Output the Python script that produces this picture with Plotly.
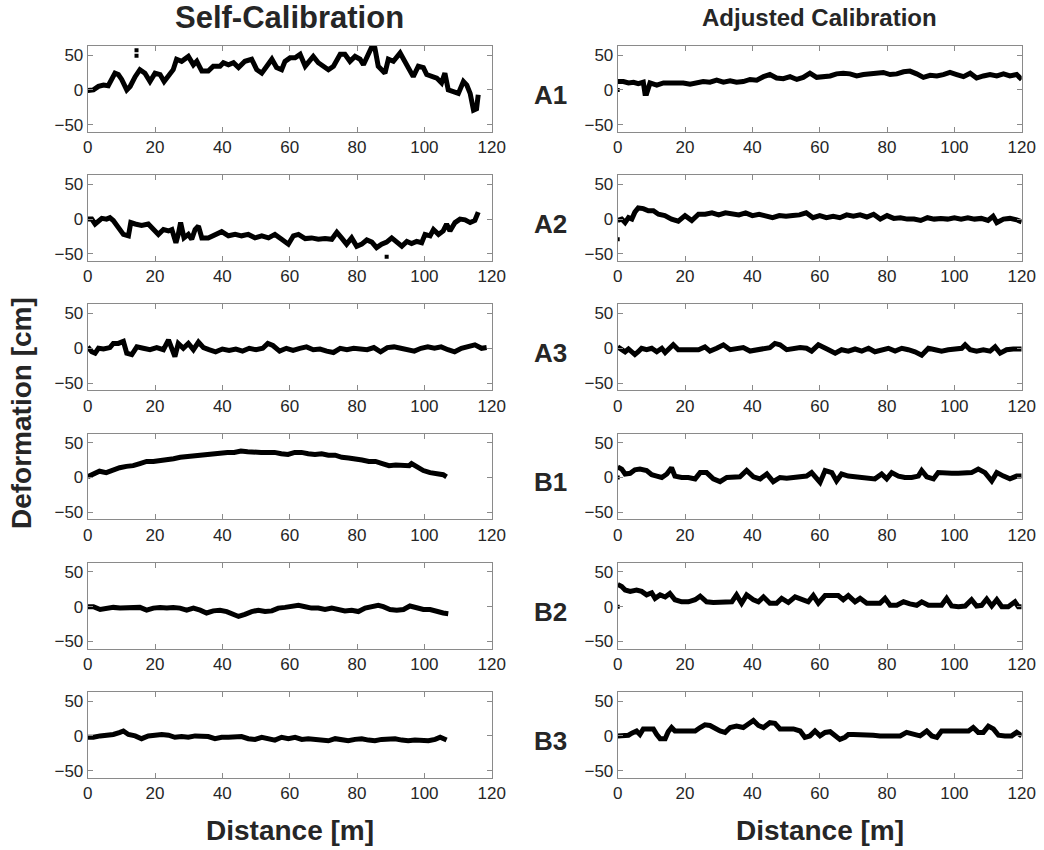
import plotly.graph_objects as go
from plotly.subplots import make_subplots

# ---------------- data (distance in m, deformation in cm) ----------------
SELF_A1_X = [0, 1.7, 3.2, 4.7, 6.1, 7.1, 8.1, 9.1, 10.1, 11.6, 12.6, 14.1, 15.5, 17.0, 18.5, 20.0, 21.5, 22.7, 24.0, 25.4,
             26.4, 27.9, 29.9, 31.4, 32.4, 33.9, 35.8, 37.3, 39.3, 40.3, 41.8, 43.3, 44.8, 46.7, 48.7, 50.2, 51.7, 53.2, 54.7, 56.1,
             57.6, 58.6, 60.1, 61.6, 63.1, 64.6, 66.0, 67.0, 68.5, 70.0, 71.5, 73.0, 75.0, 76.4, 77.9, 79.4, 80.9, 81.9, 83.4, 84.4,
             85.3, 86.3, 87.3, 88.3, 89.3, 90.8, 92.8, 93.8, 95.2, 96.7, 98.2, 99.7, 100.7, 102.2, 103.7, 105.1, 106.1, 107.1, 108.6, 110.1,
             111.6, 112.6, 113.6, 114.6, 115.5, 116.0]
SELF_A1_Y = [-1, 0, 5, 7, 6, 15, 24, 22, 15, 0, 5, 19, 29, 24, 12, 24, 22, 12, 19, 29,
             44, 41, 48, 36, 41, 27, 27, 34, 34, 39, 36, 39, 32, 41, 44, 29, 24, 34, 44, 32,
             29, 41, 46, 46, 51, 34, 41, 48, 39, 34, 29, 34, 51, 51, 41, 48, 44, 36, 51, 62,
             60, 34, 29, 24, 44, 41, 53, 44, 34, 19, 34, 32, 22, 19, 17, 10, 24, 0, -2, -5,
             12, 7, -5, -29, -27, -7]
SELF_A1_OUT_X = [14.5, 14.5]
SELF_A1_OUT_Y = [57, 49]

ADJ_A1_X = [0, 1.7, 3.2, 4.7, 6.1, 7.6, 8.1, 8.6, 9.6, 11.6, 13.6, 15.5, 17.5, 19.5, 21.5, 23.5, 25.4, 27.4, 29.4, 31.4,
            33.4, 35.3, 37.3, 39.3, 41.3, 43.3, 45.2, 47.2, 49.2, 51.2, 53.2, 55.1, 57.1, 59.1, 61.1, 63.1, 65.0, 67.0, 69.0, 71.0,
            73.0, 75.0, 76.9, 78.9, 80.9, 82.9, 84.9, 86.8, 88.8, 90.8, 92.8, 94.8, 96.7, 98.7, 100.7, 102.7, 104.7, 106.6, 108.6, 110.6,
            112.6, 114.6, 116.5, 118.5, 120]
ADJ_A1_Y = [12, 12, 10, 11, 9, 11, -5, -5, 10, 7, 10, 10, 9, 10, 8, 11, 12, 11, 14, 11,
            13, 11, 12, 15, 14, 19, 22, 17, 16, 19, 15, 18, 24, 18, 19, 20, 23, 24, 23, 20,
            22, 23, 24, 25, 22, 23, 26, 27, 23, 18, 21, 20, 22, 25, 22, 19, 24, 17, 20, 22,
            20, 23, 20, 22, 15]
ADJ_A1_OUT_X = [0]
ADJ_A1_OUT_Y = [0]

SELF_A2_X = [0, 1.2, 2.2, 3.2, 4.2, 5.6, 6.6, 7.6, 9.1, 10.6, 12.1, 12.8, 14.1, 16.0, 18.0, 19.5, 21.0, 22.5, 24.0, 25.0,
             26.2, 26.9, 27.6, 28.6, 29.9, 30.9, 31.9, 32.9, 33.9, 35.8, 37.8, 39.8, 41.8, 43.8, 45.7, 47.7, 49.7, 51.7, 53.7, 55.6,
             57.6, 59.6, 61.1, 62.6, 64.6, 66.5, 68.5, 70.5, 72.5, 74.0, 75.4, 76.9, 78.4, 79.9, 81.4, 82.9, 84.4, 85.8, 87.3, 88.8,
             90.3, 91.8, 93.3, 94.8, 96.2, 97.7, 99.2, 100.2, 101.7, 102.7, 104.2, 105.6, 106.6, 107.6, 109.1, 110.6, 112.1, 113.6, 115.0, 116.0]
SELF_A2_Y = [0, 0, -7, -2, 1, 0, 2, -2, -12, -22, -24, -5, -7, -9, -7, -15, -22, -15, -17, -15,
             -34, -22, -5, -27, -22, -29, -15, -10, -27, -27, -22, -18, -24, -22, -24, -22, -27, -24, -27, -22,
             -29, -36, -24, -22, -28, -27, -29, -28, -29, -19, -27, -36, -27, -39, -36, -30, -33, -41, -36, -33,
             -27, -32, -39, -32, -35, -32, -34, -22, -24, -15, -22, -17, -7, -17, -5, 0, -1, -5, -2, 10]
SELF_A2_OUT_X = [88.8]
SELF_A2_OUT_Y = [-54]

ADJ_A2_X = [0, 1.2, 2.2, 3.2, 4.2, 5.1, 6.1, 7.6, 9.1, 10.6, 12.1,
            14, 16, 18, 20, 22, 24, 26, 28, 30, 32, 34, 36, 38, 40, 42, 44, 46, 48, 50, 52, 54, 56, 58, 60,
            62, 64, 66, 68, 70, 72, 74, 76, 78, 80, 82, 84, 86, 88, 90, 92, 94, 96, 98, 100, 102, 104, 106, 108, 110,
            111.5, 112.6, 114.6, 116.5, 118.5, 120]
ADJ_A2_Y = [-2, 0, -5, 2, 0, 10, 16, 15, 12, 12, 7,
            5, 0, -3, 5, -2, 7, 7, 9, 6, 9, 7, 6, 9, 5, 7, 5, 2, 5, 4, 5, 6, 9, 2, 5,
            2, 4, 2, 6, 4, 6, 3, 7, 0, 5, 1, 2, 0, 0, -2, 2, 0, 1, 0, 2, 0, 2, 0, 1, -2,
            4, -5, 0, 1, -1, -4]
ADJ_A2_OUT_X = [0]
ADJ_A2_OUT_Y = [-29]

SELF_A3_X = [0, 1.2, 2.2, 3.2, 4.7, 6.6, 7.6, 9.1, 10.6, 11.6, 13.1, 14.6, 16.5, 18.5, 20.5, 22.5, 24.0, 25.0, 25.9, 26.9,
             28.4, 29.9, 31.4, 32.9, 34.4, 36, 38, 40, 42, 44, 46, 48, 50, 52, 53.5, 55, 57, 59, 61, 63,
             65, 67, 69, 71, 73, 75, 77, 79, 81, 83, 85, 87, 89, 91, 93, 95, 97, 99, 101, 103,
             105, 107, 109, 111, 113, 115, 117, 118.5]
SELF_A3_Y = [2, -5, -7, 0, -1, 1, 7, 7, 10, -7, -9, 2, 0, -2, 1, -2, 12, 0, -12, 7,
             0, 7, -2, 9, 1, -2, -5, -1, -3, -1, -4, 0, -2, 0, 7, 4, -4, 0, -3, 0,
             2, -2, -1, -4, -6, 0, -2, 0, -1, -2, 1, -5, 1, 2, 0, -2, -4, 0, 2, 0,
             2, -2, -5, 0, 2, 5, 0, 1]

ADJ_A3_X = [0, 1.2, 2.2, 3.2, 4.2, 5.1, 6.1, 7.1, 8.6, 10.1, 11.6, 13.1, 14.1, 15.5, 16.5, 18, 20, 22, 24, 25.9,
            27.4, 29.4, 31.4, 33.4, 35.3, 37.3, 39.3, 41.3, 43.3, 45.2, 46.7, 48.2, 50.2, 52.2, 54.2, 56.1, 57.6, 59.6, 61.1, 62.6,
            64.6, 66.5, 68.5, 70.5, 72.5, 74.5, 76.4, 78.4, 80.4, 82.4, 84.4, 86.3, 88.3, 90.3, 92.3, 94.3, 96.2, 98.2, 100.2, 102.2,
            103.2, 104.7, 106.6, 108.6, 110.6, 112.1, 113.6, 115.5, 117.5, 120]
ADJ_A3_Y = [2, -2, -5, -1, -5, -9, -5, 0, -2, 0, -5, 0, -6, 2, 5, -2, -2, -2, -2, 2,
            -4, 0, 5, -2, 0, 1, -4, -2, 0, 1, 7, 5, -2, 0, 1, 0, -4, 5, 2, -2,
            -7, -2, -4, -1, -4, 0, -5, -2, 0, -4, 0, -2, -5, -10, 0, -2, -4, -2, -1, 0,
            5, -2, -4, -2, -4, 2, -7, -2, -1, -1]

SELF_B1_X = [0, 1.7, 3.5, 5.5, 7.5, 9.5, 11.5, 13.5, 15.5, 17.5, 19.5, 21.5, 23.5, 25.5, 27.5, 29.5, 31.5, 33.5, 35.5, 37.5,
             39.5, 41.5, 43.5, 45.5, 47.5, 49.5, 51.5, 53.5, 55.5, 57.5, 59.5, 61.5, 63.5, 65.5, 67.5, 69.5, 71.5, 73.5, 75.5, 77.5,
             79.5, 81.5, 83.5, 85.5, 87.5, 89.5, 91.5, 93.5, 95.5, 96.2, 97.7, 99.7, 101.7, 103.7, 105.6, 106.6]
SELF_B1_Y = [1, 5, 9, 7, 11, 14, 16, 17, 20, 23, 23, 24, 26, 27, 29, 30, 32, 32, 34, 34,
             35, 36, 36, 38, 37, 36, 36, 36, 36, 34, 33, 36, 36, 34, 33, 34, 32, 32, 29, 28,
             27, 25, 23, 23, 20, 17, 18, 18, 17, 20, 15, 10, 7, 6, 4, 1]

ADJ_B1_X = [0, 1.2, 2.2, 3.7, 5.1, 6.6, 8.6, 10.1, 11.6, 13.1, 14.6, 16.0, 17.0, 19.0, 21.0, 23.0, 24.5, 26.4, 28.4, 30.4,
            32.4, 34.4, 36.3, 38.3, 40.3, 42.3, 44.3, 46.2, 48.2, 50.2, 52.2, 54.2, 56.1, 57.6, 60.1, 61.6, 63.6, 65.0, 66.5, 68.5,
            70.5, 72.5, 74.5, 76.4, 78.4, 79.9, 81.4, 83.4, 85.3, 87.3, 89.3, 90.3, 91.8, 93.8, 95.2, 97.2, 99.2, 101.2, 103.2, 105.1,
            107.1, 109.1, 111.1, 112.6, 114.6, 116.5, 118.5, 120]
ADJ_B1_Y = [15, 12, 5, 6, 11, 12, 10, 4, 2, 0, 5, 14, 2, 0, 0, -2, 7, 7, -2, -6,
            0, 0, 1, 10, 1, -2, 5, -6, 0, -1, 0, 1, 2, 7, -7, 10, 7, -5, 5, 2,
            1, 0, -1, -2, 5, -2, 7, 2, 0, 0, 2, 10, 1, -2, 7, 6, 6, 6, 6, 7,
            12, 7, -5, 7, 2, -2, 2, 2]
ADJ_B1_OUT_X = [0]
ADJ_B1_OUT_Y = [0]

SELF_B2_X = [0, 1.7, 3.7, 5.6, 7.6, 9.6, 11.6, 13.6, 15.5, 17.5, 19.5, 21.5, 23.5, 25.4, 27.4, 29.4, 31.4, 33.4, 35.3, 37.3,
             39.3, 41.3, 43.3, 44.8, 46.7, 48.7, 50.7, 52.7, 54.7, 56.6, 58.6, 60.6, 62.6, 64.6, 66.5, 68.5, 70.5, 72.5, 74.5, 76.4,
             78.4, 80.4, 82.4, 84.4, 86.3, 87.8, 89.8, 91.8, 93.8, 95.7, 97.7, 99.7, 101.7, 103.7, 105.6, 107.1]
SELF_B2_Y = [0, 0, -4, -2, -1, -2, -2, -1, -1, -5, -2, -1, -2, -1, -2, -5, -2, -5, -9, -6,
             -5, -7, -11, -14, -11, -7, -5, -7, -6, -2, -1, 1, 2, 0, -2, -2, -4, -2, -4, -6,
             -5, -7, -2, 1, 2, 0, -4, -5, -4, 1, -2, -4, -4, -7, -9, -10]

ADJ_B2_X = [0, 1.2, 2.2, 3.7, 5.6, 7.1, 8.6, 10.1, 11.1, 12.6, 14.1, 15.5, 17.0, 19.0, 21.0, 23.0, 24.5, 26.4, 28.4, 30.4,
            32.4, 33.9, 35.3, 36.8, 38.3, 40.3, 41.8, 43.3, 45.2, 47.2, 48.7, 50.7, 52.7, 54.7, 56.6, 58.1, 59.6, 61.6, 63.6, 65.5,
            67.0, 68.5, 70.5, 72.0, 74.0, 75.9, 77.9, 79.4, 80.9, 82.9, 84.9, 86.8, 88.8, 90.3, 92.3, 94.3, 96.2, 97.7, 99.2, 101.2,
            103.2, 105.1, 106.6, 108.1, 109.6, 111.1, 112.6, 114.1, 116.0, 118.0, 119.0, 120]
ADJ_B2_Y = [32, 29, 24, 22, 24, 22, 17, 20, 12, 17, 14, 19, 10, 7, 7, 10, 15, 7, 6, 6,
            6, 7, 17, 5, 17, 10, 7, 14, 5, 5, 12, 6, 14, 10, 7, 16, 5, 16, 16, 16,
            10, 16, 7, 12, 5, 5, 5, 12, 2, 2, 7, 4, 2, 7, 2, 2, 2, 12, 1, 0,
            1, 10, 1, 2, 11, 1, 10, 0, 0, 7, 0, 0]
ADJ_B2_OUT_X = [0]
ADJ_B2_OUT_Y = [0]

SELF_B3_X = [0, 1.7, 3.7, 5.6, 7.6, 9.6, 10.6, 12.1, 14.1, 16.0, 18.0, 20.0, 22.0, 24.0, 25.9, 27.9, 29.9, 31.9,
             33.9, 35.8, 37.8, 39.8, 41.8, 43.8, 45.7, 47.7, 49.7, 51.7, 53.7, 55.6, 57.6, 59.6, 61.6, 63.6, 65.5, 67.5,
             69.5, 71.5, 73.5, 75.4, 77.4, 79.4, 81.4, 83.4, 85.3, 87.3, 89.3, 91.3, 93.3, 95.2, 97.2, 99.2, 101.2, 103.2,
             104.7, 106.6]
SELF_B3_Y = [-2, -2, 0, 1, 2, 5, 7, 2, 0, -4, 0, 1, 2, 1, -2, -1, -2, 0,
             0, -1, -4, -2, -2, -2, -1, -4, -5, -2, -5, -6, -2, -4, -2, -5, -4, -5,
             -6, -7, -4, -6, -7, -5, -4, -6, -7, -5, -4, -4, -6, -7, -6, -6, -7, -5,
             -2, -6]

ADJ_B3_X = [0, 1.7, 3.2, 4.2, 5.6, 6.6, 7.6, 9.1, 10.6, 11.6, 12.6, 14.1, 15.0, 16.0, 17.0, 19.0, 21.0, 23.0, 24.5, 25.9,
            27.4, 28.9, 30.4, 31.9, 33.4, 35.3, 37.3, 38.8, 40.3, 41.8, 43.3, 45.2, 46.7, 48.2, 50.2, 52.2, 54.2, 55.6, 57.1, 58.6,
            60.1, 61.6, 63.1, 64.6, 66.0, 67.5, 68.5, 70.0, 72.0, 74.0, 75.9, 77.9, 79.9, 81.9, 83.9, 85.8, 87.8, 89.8, 91.8, 93.3,
            94.8, 96.2, 98.2, 100.2, 102.2, 104.2, 105.6, 107.1, 108.6, 110.1, 111.6, 113.1, 115.0, 117.0, 118.5, 120]
ADJ_B3_Y = [0, 0, 1, 4, 7, 2, 10, 10, 10, 2, -4, -4, 6, 12, 7, 7, 7, 7, 12, 16,
            15, 10, 7, 5, 12, 14, 12, 17, 22, 15, 12, 19, 18, 10, 10, 10, 7, -2, 0, 7,
            0, 5, 6, 1, -5, -2, 2, 2, 2, 2, 1, 0, 0, 0, 0, 5, 2, 0, 7, 0,
            -2, 7, 7, 7, 7, 7, 12, 5, 5, 14, 10, 1, 0, 0, 5, 0]

X_TICKS = [0, 20, 40, 60, 80, 100, 120]
Y_TICKS = [-50, 0, 50]
ROW_LABELS = ["A1", "A2", "A3", "B1", "B2", "B3"]
COLUMN_TITLES = ["Self-Calibration", "Adjusted Calibration"]
X_TITLE = "Distance [m]"
Y_TITLE = "Deformation [cm]"

PANELS = [
    (1, 1, SELF_A1_X, SELF_A1_Y, SELF_A1_OUT_X, SELF_A1_OUT_Y),
    (1, 2, ADJ_A1_X, ADJ_A1_Y, ADJ_A1_OUT_X, ADJ_A1_OUT_Y),
    (2, 1, SELF_A2_X, SELF_A2_Y, SELF_A2_OUT_X, SELF_A2_OUT_Y),
    (2, 2, ADJ_A2_X, ADJ_A2_Y, ADJ_A2_OUT_X, ADJ_A2_OUT_Y),
    (3, 1, SELF_A3_X, SELF_A3_Y, [], []),
    (3, 2, ADJ_A3_X, ADJ_A3_Y, [], []),
    (4, 1, SELF_B1_X, SELF_B1_Y, [], []),
    (4, 2, ADJ_B1_X, ADJ_B1_Y, ADJ_B1_OUT_X, ADJ_B1_OUT_Y),
    (5, 1, SELF_B2_X, SELF_B2_Y, [], []),
    (5, 2, ADJ_B2_X, ADJ_B2_Y, ADJ_B2_OUT_X, ADJ_B2_OUT_Y),
    (6, 1, SELF_B3_X, SELF_B3_Y, [], []),
    (6, 2, ADJ_B3_X, ADJ_B3_Y, [], []),
]

# ---------------- layout geometry (pixels in a 1044x850 page) ----------------
W, H = 1044, 850
COL_X = [(87.7, 491.7), (617.7, 1021.7)]
ROW_TOP0, ROW_PITCH, ROW_H = 46.0, 129.2, 85.7
FONT = "Liberation Sans, Arial, Helvetica, sans-serif"
AX_GRAY = "#8a8a8a"
TXT = "#262626"
TITLE_SIZES = [31, 24]

fig = make_subplots(rows=6, cols=2)

for (r, c, xs, ys, ox, oy) in PANELS:
    fig.add_trace(go.Scatter(x=xs, y=ys, mode="lines",
                             line=dict(color="black", width=5),
                             hoverinfo="x+y", showlegend=False), row=r, col=c)
    if ox:
        fig.add_trace(go.Scatter(x=ox, y=oy, mode="markers",
                                 marker=dict(color="black", size=4, symbol="square"),
                                 showlegend=False), row=r, col=c)

for r in range(1, 7):
    top = ROW_TOP0 + (r - 1) * ROW_PITCH
    ydom = [1 - (top + ROW_H) / H, 1 - top / H]
    for c in (1, 2):
        x0, x1 = COL_X[c - 1]
        fig.update_xaxes(domain=[x0 / W, x1 / W], range=[0, 120], tickvals=X_TICKS,
                         showline=True, linecolor=AX_GRAY, linewidth=1, mirror="ticks",
                         ticks="inside", ticklen=5, tickcolor=AX_GRAY,
                         showgrid=False, zeroline=False, automargin=False,
                         tickfont=dict(family=FONT, size=17, color=TXT),
                         row=r, col=c)
        fig.update_yaxes(domain=ydom, range=[-60, 63], tickvals=Y_TICKS,
                         showline=True, linecolor=AX_GRAY, linewidth=1, mirror="ticks",
                         ticks="inside", ticklen=5, tickcolor=AX_GRAY,
                         showgrid=False, zeroline=False, automargin=False,
                         tickfont=dict(family=FONT, size=17, color=TXT),
                         row=r, col=c)


def text_at(txt, px, py, size, angle=0):
    return dict(text=f"<b>{txt}</b>", x=px / W, y=1 - py / H, xref="paper", yref="paper",
                xanchor="center", yanchor="middle", showarrow=False, textangle=angle,
                font=dict(family=FONT, size=size, color=TXT))


ann = []
for i, t in enumerate(COLUMN_TITLES):
    x0, x1 = COL_X[i]
    ann.append(text_at(t, (x0 + x1) / 2, 18, TITLE_SIZES[i]))
    ann.append(text_at(X_TITLE, (x0 + x1) / 2, 830, 28))
for r, lab in enumerate(ROW_LABELS):
    top = ROW_TOP0 + r * ROW_PITCH
    ann.append(text_at(lab, 550, top + ROW_H / 2 + 6, 26))
ann.append(text_at(Y_TITLE, 22, 413, 28, angle=-90))

fig.update_layout(width=W, height=H, margin=dict(l=0, r=0, t=0, b=0, autoexpand=False),
                  template="none",
                  paper_bgcolor="white", plot_bgcolor="white",
                  annotations=ann, showlegend=False)

fig.write_html("out.html", config={"displayModeBar": False},
               post_script="document.body.style.margin='0';document.body.style.overflow='hidden';")
